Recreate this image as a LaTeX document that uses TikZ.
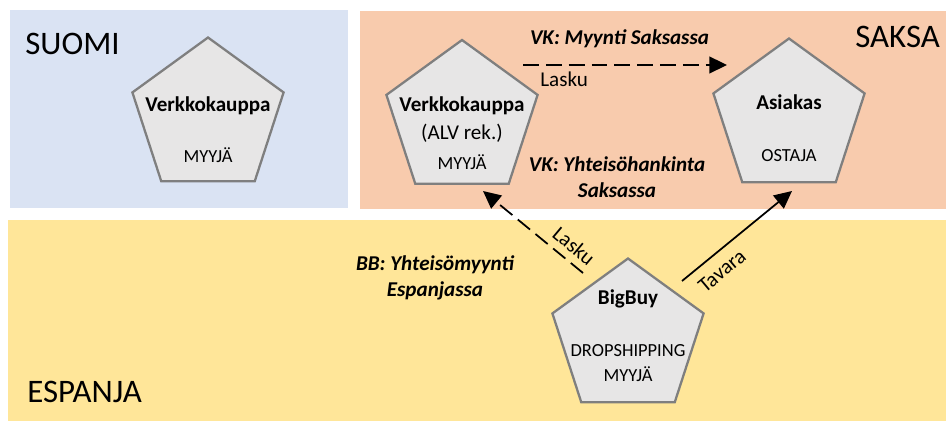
\documentclass[tikz,border=0pt]{standalone}
\usepackage{fontspec}
\setmainfont{Carlito}
\usetikzlibrary{shapes.geometric, arrows.meta, positioning, calc}

\definecolor{suomisini}{HTML}{DAE3F3}
\definecolor{saksaoranssi}{HTML}{F8CBAD}
\definecolor{espanjakelta}{HTML}{FFE699}
\definecolor{toimijatausta}{HTML}{E7E6E6}
\definecolor{toimijareuna}{HTML}{7F7F7F}

\begin{document}
\begin{tikzpicture}[
    % one unit = one pixel of the original, y runs downwards
    x=0.02cm, y=-0.02cm,
    maa/.style={font=\fontsize{18.7}{22}\selectfont, inner sep=0pt, anchor=base west},
    toimija/.style={
        regular polygon, regular polygon sides=5,
        draw=toimijareuna, fill=toimijatausta, line width=1.3pt,
        minimum size=3.18cm, inner sep=0pt
    },
    nimi/.style={font=\bfseries\fontsize{12}{14}\selectfont, inner sep=0pt, anchor=base},
    rooli/.style={font=\fontsize{10.5}{12}\selectfont, inner sep=0pt, anchor=base},
    teksti/.style={font=\fontsize{12}{14}\selectfont, inner sep=0pt},
    selite/.style={font=\bfseries\itshape\fontsize{12}{15}\selectfont, inner sep=0pt},
    nuoli/.style={-{Triangle[length=10pt,width=9.5pt]}, line width=1pt},
    katkonuoli/.style={nuoli, dash pattern=on 9pt off 4pt}
]
  \useasboundingbox (0,0) rectangle (946,421);

  % Countries
  \fill[suomisini] (10,10) rectangle (348,208);
  \fill[saksaoranssi] (360,11) rectangle (946,209);
  \fill[espanjakelta] (8,220) rectangle (946,421);
  \node[maa] (suomi) at (25,55) {SUOMI};
  \node[maa] (saksa) at (855,48) {SAKSA};
  \node[maa] (espanja) at (27,403) {ESPANJA};

  % Actors
  \node[toimija] (vkfi) at (208,117) {};
  \node[nimi] (vkfi-nimi) at ($(vkfi)+(0,-5)$) {Verkkokauppa};
  \node[rooli] (vkfi-rooli) at ($(vkfi)+(0,46)$) {MYYJÄ};

  \node[toimija] (vkde) at (462,119.5) {};
  \node[nimi] (vkde-nimi) at ($(vkde)+(0,-8)$) {Verkkokauppa};
  \node[teksti, anchor=base] (vkde-alv) at ($(vkde)+(0,20)$) {(ALV rek.)};
  \node[rooli] (vkde-rooli) at ($(vkde)+(0,50)$) {MYYJÄ};

  \node[toimija] (asiakas) at (789,118) {};
  \node[nimi] (asiakas-nimi) at ($(asiakas)+(0,-8)$) {Asiakas};
  \node[rooli] (asiakas-rooli) at ($(asiakas)+(0,44)$) {OSTAJA};

  \node[toimija] (bigbuy) at (628,338) {};
  \node[nimi] (bigbuy-nimi) at ($(bigbuy)+(0,-33)$) {BigBuy};
  \node[rooli, align=center] (bigbuy-rooli) at ($(bigbuy)+(0,19)$) {DROPSHIPPING};
  \node[rooli] (bigbuy-rooli2) at ($(bigbuy)+(0,44)$) {MYYJÄ};

  % Flows
  \coordinate (myyntiA) at (523,65);
  \coordinate (myyntiB) at (727,65);
  \draw[katkonuoli] (myyntiA) -- (myyntiB);
  \node[selite, anchor=base] (vk-myynti) at (619.5,45) {VK: Myynti Saksassa};
  \node[teksti, anchor=base west] (lasku1) at (540,87) {Lasku};

  \coordinate (laskuA) at (583,273);
  \coordinate (laskuB) at (483,191);
  \draw[katkonuoli] (laskuA) -- (laskuB);
  \node[teksti, rotate=-40] (lasku2) at (574,246) {Lasku};

  \coordinate (tavaraA) at (682,281);
  \coordinate (tavaraB) at (792,191);
  \draw[nuoli] (tavaraA) -- (tavaraB);
  \node[teksti, rotate=40] (tavara) at (722,271) {Tavara};

  \node[selite, align=center] (vk-hankinta) at (617,177) {VK: Yhteisöhankinta\\Saksassa};
  \node[selite, align=center] (bb-myynti) at (435,278) {BB: Yhteisömyynti\\Espanjassa};

\end{tikzpicture}
\end{document}
